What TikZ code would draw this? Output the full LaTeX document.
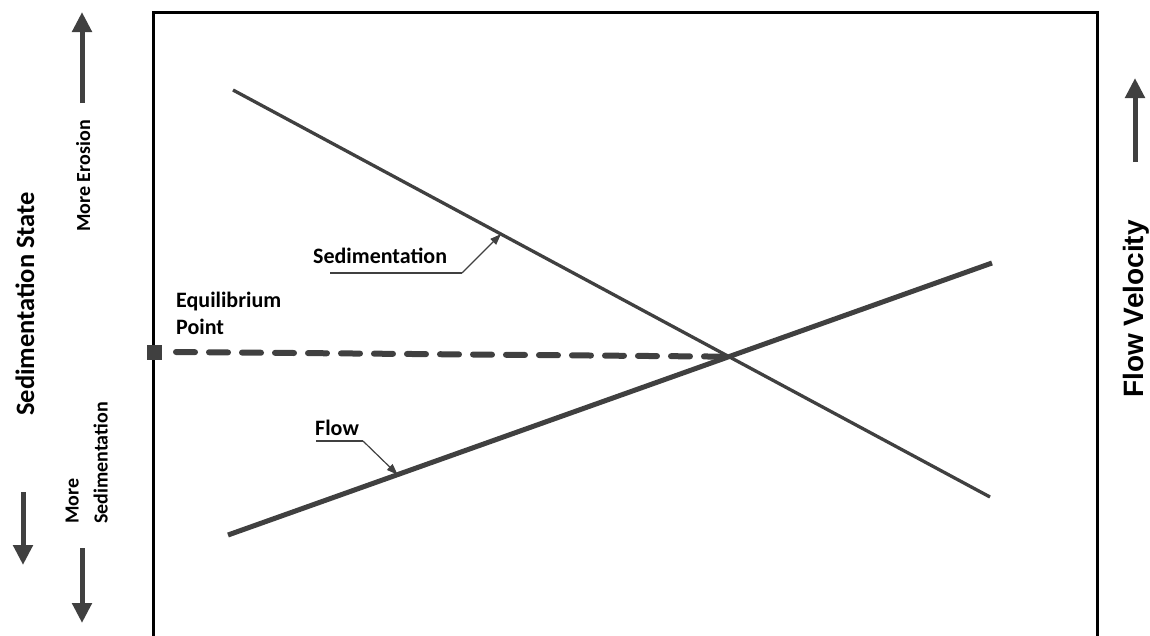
\documentclass[tikz,border=0pt]{standalone}
\usepackage{fontspec}
\setmainfont{Carlito}
\newfontfamily\arialfont{Liberation Sans}
\usetikzlibrary{arrows.meta}
\usetikzlibrary{positioning}
\usetikzlibrary{calc}

\definecolor{linegray}{HTML}{404040}
\tikzset{
  bigarrow/.style={line width=5pt, linegray, -{Triangle[width=19pt,length=20pt]}},
  leader/.style={line width=1.2pt, linegray, -{Triangle[width=8pt,length=11pt]}},
  lbl/.style={font=\bfseries\fontsize{22}{27}\selectfont, inner sep=0pt},
  sidelbl/.style={font=\bfseries\fontsize{20}{29}\selectfont, rotate=90, inner sep=0pt},
}

\begin{document}
\begin{tikzpicture}[x=1pt,y=-1pt]
\useasboundingbox (0,0) rectangle (1150,635);
% frame, open at the bottom
\draw[line width=3pt] (153,640) -- (153,12) -- (1097,12) -- (1097,640);

% the two lines and where they cross
\coordinate (s1) at (233,90);
\coordinate (s2) at (990,497);
\coordinate (f1) at (228,535);
\coordinate (f2) at (992,263);
\draw[line width=3.3pt, linegray] (s1) -- (s2);
\draw[line width=5pt, linegray] (f1) -- (f2);
\coordinate (eq) at (intersection of s1--s2 and f1--f2);
\node[fill=linegray, minimum size=15pt, inner sep=0pt] (sq) at (154,352) {};
\draw[line width=6pt, linegray, line cap=round, dash pattern=on 19pt off 14pt] (176,352) -- (eq);

% labels
\node[lbl, anchor=north west, align=left] (eqlbl) at (176,292) {Equilibrium\\Point};
\node[lbl, anchor=base west] (sedlbl) at (313,263) {Sedimentation};
\coordinate (sedtip) at ($(s1)!0.354!(s2)$);
\coordinate (sedu1) at (330,273);
\coordinate (sedu2) at (462,273);
\draw[line width=1.2pt, linegray] (sedu1) -- (sedu2);
\draw[leader] (sedu2) -- (sedtip);
\node[lbl, anchor=base west] (flowlbl) at (315,435) {Flow};
\coordinate (flowtip) at ($(f1)!0.222!(f2)$);
\coordinate (flowu1) at (316,441);
\coordinate (flowu2) at (363,441);
\draw[line width=1.2pt, linegray] (flowu1) -- (flowu2);
\draw[leader] (flowu2) -- (flowtip);

% left side: state axis
\node[font=\bfseries\fontsize{26.5}{30}\selectfont, rotate=90, inner sep=0pt, anchor=base] (statelbl) at (34,304) {Sedimentation State};
\draw[bigarrow] (23,492) -- (23,565);
\node[sidelbl, anchor=base] (erolbl) at (90,176) {More Erosion};
\draw[bigarrow] (82,103) -- (82,12);
\node[sidelbl, align=left, anchor=south west] (sedmore) at (108,524) {More\\Sedimentation};
\draw[bigarrow] (82,548) -- (82,623);

% right side: velocity axis
\node[font=\arialfont\bfseries\fontsize{28}{32}\selectfont, rotate=90, inner sep=0pt, anchor=base] (vellbl) at (1143,309) {Flow Velocity};
\draw[bigarrow] (1135,162) -- (1135,78);
\end{tikzpicture}
\end{document}
